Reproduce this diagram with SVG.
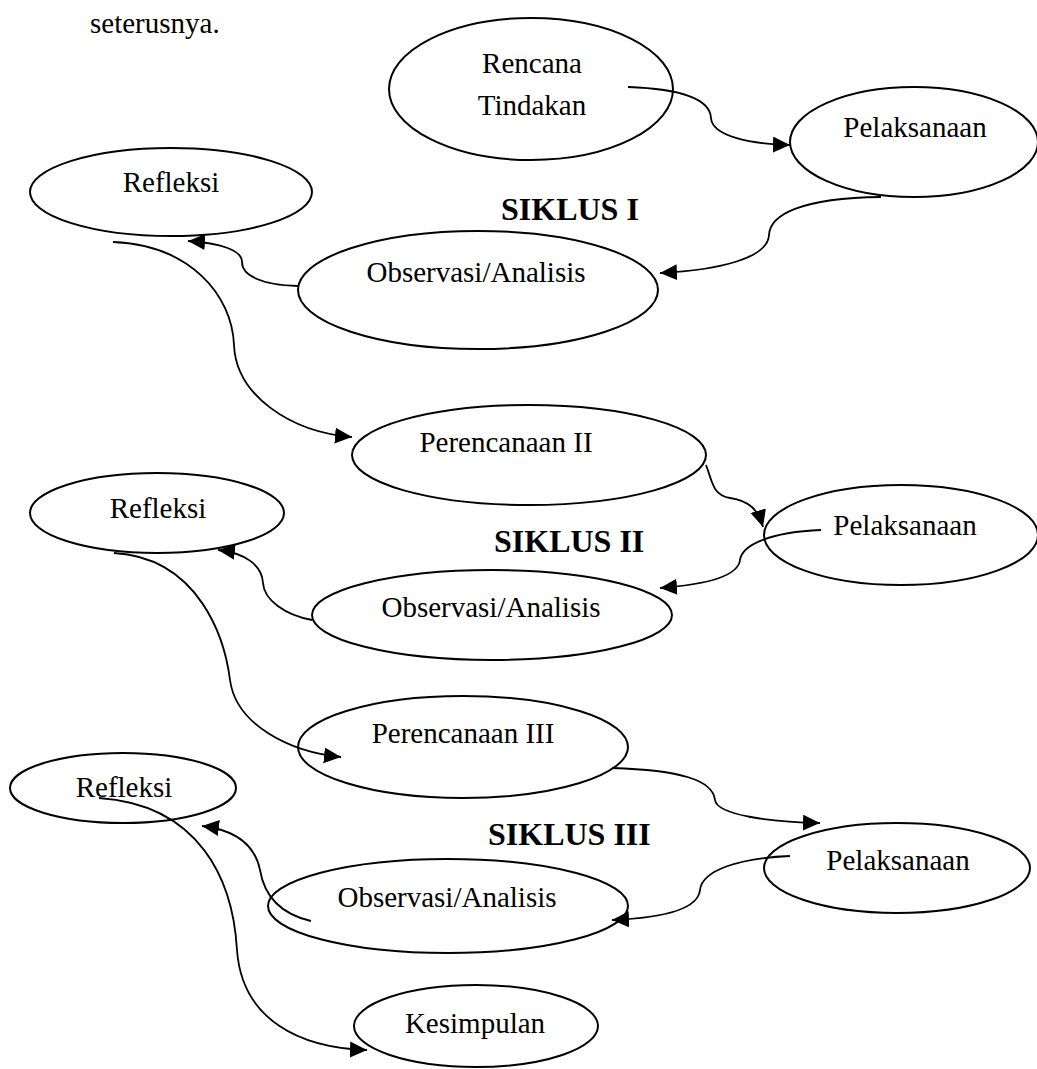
<svg xmlns="http://www.w3.org/2000/svg" width="1037" height="1069" viewBox="0 0 1037 1069">
<defs>
<style>
.node ellipse{fill:#fff;stroke:#000;stroke-width:2}
.lbl{font-family:"Liberation Serif","Times New Roman",serif;font-size:29px;fill:#000;text-anchor:middle}
.cyc{font-family:"Liberation Serif","Times New Roman",serif;font-size:32px;font-weight:bold;fill:#000}
.conn path{fill:none;stroke:#000;stroke-width:1.8;marker-end:url(#ah)}
</style>
<marker id="ah" markerUnits="userSpaceOnUse" markerWidth="18" markerHeight="18" refX="17" refY="8" orient="auto">
<path d="M0,0 L17,8 L0,16 z" fill="#000"/>
</marker>
</defs>
<rect width="1037" height="1069" fill="#fff"/>
<text x="90" y="33" font-family="Liberation Serif,Times New Roman,serif" font-size="29">seterusnya.</text>

<g id="rencana" class="node"><ellipse cx="531" cy="89" rx="142" ry="71"/><text class="lbl" x="532" y="73">Rencana</text><text class="lbl" x="532" y="115">Tindakan</text></g>
<g id="pelaksanaan1" class="node"><ellipse cx="914" cy="142" rx="124" ry="55"/><text class="lbl" x="915" y="137">Pelaksanaan</text></g>
<g id="refleksi1" class="node"><ellipse cx="171" cy="192" rx="141" ry="44"/><text class="lbl" x="171" y="192">Refleksi</text></g>
<g id="observasi1" class="node"><ellipse cx="478" cy="290" rx="180" ry="59"/><text class="lbl" x="476" y="282">Observasi/Analisis</text></g>
<g id="perencanaan2" class="node"><ellipse cx="529" cy="455" rx="177" ry="50"/><text class="lbl" x="506" y="452">Perencanaan II</text></g>
<g id="refleksi2" class="node"><ellipse cx="157" cy="513" rx="127" ry="40"/><text class="lbl" x="158" y="518">Refleksi</text></g>
<g id="pelaksanaan2" class="node"><ellipse cx="901" cy="535" rx="137" ry="50"/><text class="lbl" x="905" y="535">Pelaksanaan</text></g>
<g id="observasi2" class="node"><ellipse cx="492" cy="615" rx="180" ry="45"/><text class="lbl" x="491" y="617">Observasi/Analisis</text></g>
<g id="perencanaan3" class="node"><ellipse cx="463" cy="747" rx="165" ry="51"/><text class="lbl" x="463" y="743">Perencanaan III</text></g>
<g id="refleksi3" class="node"><ellipse cx="123" cy="788" rx="113" ry="35"/><text class="lbl" x="124" y="797">Refleksi</text></g>
<g id="pelaksanaan3" class="node"><ellipse cx="897" cy="868" rx="133" ry="45"/><text class="lbl" x="898" y="870">Pelaksanaan</text></g>
<g id="observasi3" class="node"><ellipse cx="448" cy="906" rx="180" ry="47"/><text class="lbl" x="447" y="907">Observasi/Analisis</text></g>
<g id="kesimpulan" class="node"><ellipse cx="476" cy="1026" rx="122" ry="41"/><text class="lbl" x="475" y="1033">Kesimpulan</text></g>

<text class="cyc" x="501" y="220">SIKLUS I</text>
<text class="cyc" x="494" y="552">SIKLUS II</text>
<text class="cyc" x="488" y="845">SIKLUS III</text>

<g id="connectors" class="conn">
<path d="M628,87 C685,89 710,100 711,118 C712,136 750,144 790,145"/>
<path d="M881,197 C800,198 770,215 769,235 C768,258 720,270 660,273"/>
<path d="M298,286 C260,285 242,275 242,262 C242,250 220,243 188,241"/>
<path d="M113,242 C190,245 232,295 234,345 C236,395 290,432 352,437"/>
<path d="M706,465 C712,480 712,495 730,498 C750,501 758,510 763,527"/>
<path d="M821,530 C770,532 742,545 740,560 C738,578 700,585 660,588"/>
<path d="M312,620 C285,615 264,600 263,583 C262,565 245,553 218,550"/>
<path d="M114,553 C200,558 225,640 230,680 C236,725 290,752 341,757"/>
<path d="M612,768 C680,770 713,780 715,800 C717,815 770,822 820,823"/>
<path d="M790,856 C740,858 702,870 700,890 C698,910 660,918 612,920"/>
<path d="M311,921 C285,915 265,900 260,870 C255,845 235,830 202,826"/>
<path d="M99,798 C200,805 233,880 237,950 C242,1020 300,1048 367,1050"/>
</g>
</svg>
